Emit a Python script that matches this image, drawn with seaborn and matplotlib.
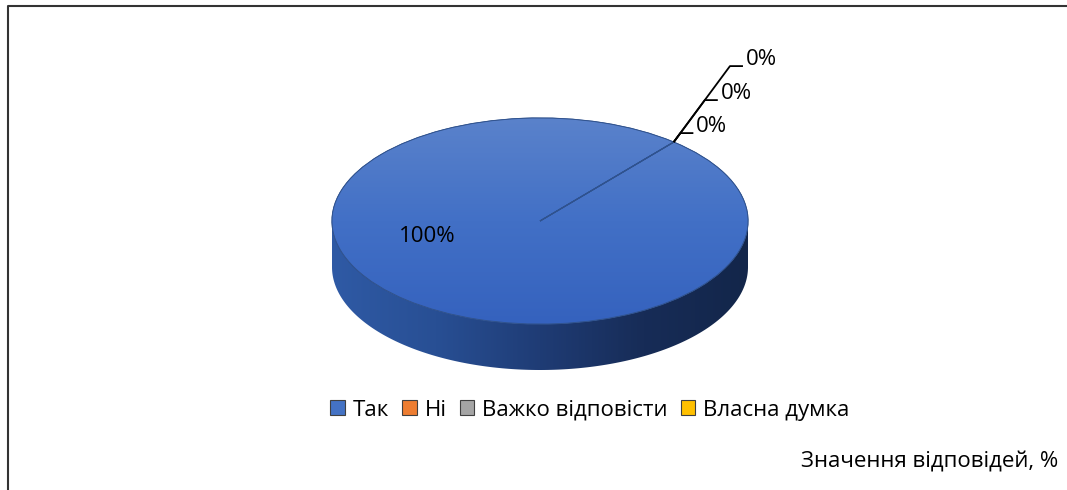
import numpy as np
import matplotlib
matplotlib.use('Agg')
import matplotlib.pyplot as plt
import seaborn as sns
from matplotlib.colors import LinearSegmentedColormap
from matplotlib.path import Path
from matplotlib.patches import PathPatch, Patch
from matplotlib.lines import Line2D

# ---- data ----
categories = ['Так', 'Ні', 'Важко відповісти', 'Власна думка']
values = [100, 0, 0, 0]
pct_labels = ['100%', '0%', '0%', '0%']
title = 'Значення відповідей, %'
colors = ['#4472C4', '#ED7D31', '#A5A5A5', '#FFC000']

sns.set_theme(style='white', palette=sns.color_palette(colors))
plt.rcParams['font.family'] = ['Open Sans', 'DejaVu Sans']
plt.rcParams['text.color'] = 'black'
FS = 16

W, H = 1067, 490
fig = plt.figure(figsize=(W / 100, H / 100), dpi=100)
ax = fig.add_axes([0, 0, 1, 1])

# ellipse geometry in pixels
cx, cy, rx, ry, depth = 540, 221, 208, 103, 46
d = depth / ry

def lims():
    ax.set_aspect('auto')
    ax.set_xlim((0 - cx) / rx, (W - cx) / rx)
    ax.set_ylim((cy - H) / ry, (cy - 0) / ry)
    ax.axis('off')

start = 50
wedges, _ = ax.pie(values, colors=colors, startangle=start, counterclock=True, radius=1,
                   wedgeprops=dict(edgecolor='#2F528F', linewidth=0.8))
for w in wedges[1:]:
    w.set_zorder(4)
wedges[0].set_zorder(2)

# top face gradient
top_cmap = LinearSegmentedColormap.from_list('top', ['#3562BE', '#4270C6', '#5A82CB'])
grad = np.linspace(0, 1, 256).reshape(-1, 1)
im = ax.imshow(grad, extent=(-1, 1, -1, 1), origin='lower', cmap=top_cmap,
               aspect='auto', zorder=2.5, interpolation='bicubic')
im.set_clip_path(wedges[0])
outline = PathPatch(wedges[0].get_path(), transform=wedges[0].get_transform(),
                    fc='none', ec='#30528C', lw=0.6, zorder=3)
ax.add_patch(outline)

# side of the 3D pie
t = np.linspace(np.pi, 2 * np.pi, 200)
upper = np.column_stack([np.cos(t), np.sin(t)])
lower = np.column_stack([np.cos(t[::-1]), np.sin(t[::-1]) - d])
verts = np.vstack([upper, lower, upper[:1]])
side = PathPatch(Path(verts, closed=True), fc='none', ec='none', zorder=1)
ax.add_patch(side)
side_cmap = LinearSegmentedColormap.from_list(
    'side', ['#2F5AA5', '#284F94', '#1F3C75', '#172C57', '#13264A'])
sgrad = np.linspace(0, 1, 256).reshape(1, -1)
im2 = ax.imshow(sgrad, extent=(-1, 1, -1 - d, 0.01), cmap=side_cmap, aspect='auto',
                zorder=1, interpolation='bicubic')
im2.set_clip_path(side)
lims()

# labels
ax.text((427 - cx) / rx, (cy - 236) / ry, pct_labels[0], fontsize=FS,
        ha='center', va='center', color='black', zorder=5)

theta = np.deg2rad(start)
ex, ey = np.cos(theta), np.sin(theta)
# leader direction in pixels (up-right)
dir_px = np.array([57.0, 77.0]) / 77.0
rises = [9, 42, 76]
for lab, rise in zip(pct_labels[1:], rises):
    kx = ex + dir_px[0] * rise / rx
    ky = ey + dir_px[1] * rise / ry
    hx = kx + 13 / rx
    ax.plot([ex, kx, hx], [ey, ky, ky], color='black', lw=1.3, zorder=5,
            solid_capstyle='butt')
    ax.text(hx + 3 / rx, ky + 1 / ry, lab, fontsize=FS, ha='left', va='baseline',
            color='black', zorder=5)

# legend
handles = [Patch(facecolor=c, edgecolor='#404040', linewidth=0.8) for c in colors]
fig.legend(handles, categories, loc='center', bbox_to_anchor=(590 / W, 1 - 410 / H),
           ncol=4, frameon=False, fontsize=FS, handlelength=0.65, handleheight=0.65,
           handletextpad=0.35, columnspacing=0.6, borderpad=0, labelcolor='black')

fig.text(1058 / W, 1 - 462 / H, title, fontsize=FS, ha='right', va='center', color='black')

# chart border (top and left visible)
fig.add_artist(Line2D([8 / W, 8 / W, 1], [0, 1 - 6 / H, 1 - 6 / H], color='#333333',
                      lw=1.5, transform=fig.transFigure))

fig.savefig('out.png', dpi=100, facecolor='white')
